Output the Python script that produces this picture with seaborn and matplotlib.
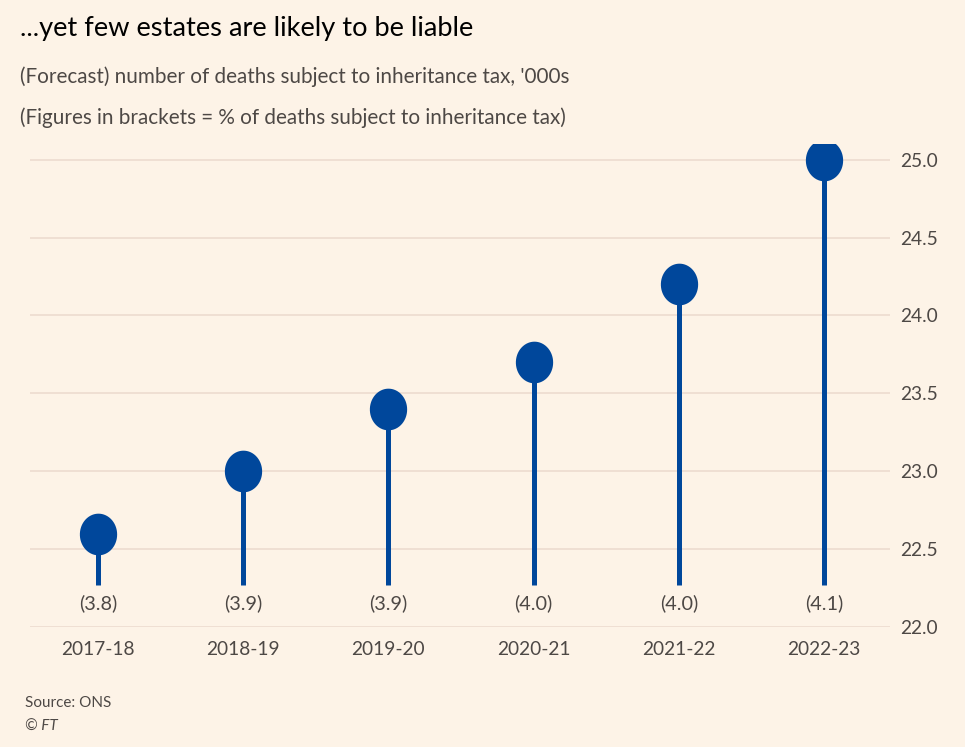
#inheritance tax lollipop chart (FT style)

import numpy as np
import pandas as pd
import matplotlib.pyplot as plt
import seaborn as sns
from matplotlib.path import Path

#data
years = ["2017-18", "2018-19", "2019-20", "2020-21", "2021-22", "2022-23"]
deaths = [22.6, 23.0, 23.4, 23.7, 24.2, 25.0]
pct = ["(3.8)", "(3.9)", "(3.9)", "(4.0)", "(4.0)", "(4.1)"]
yticks = [22.0, 22.5, 23.0, 23.5, 24.0, 24.5, 25.0]

bg = "#fdf3e7"
blue = "#00479b"
grey = "#4d4845"

sns.set_theme(style="white")
plt.rcParams['font.family'] = ['Lato', 'DejaVu Sans']

df = pd.DataFrame({"year": years, "deaths": deaths, "pct": pct})
df["pos"] = np.arange(len(df))

#slightly tall ellipse for the lollipop heads
t = np.linspace(0, 2 * np.pi, 60)
ellipse = Path(np.column_stack([np.cos(t) * 34 / 38, np.sin(t)]), closed=True)

fig = plt.figure(figsize=(9.65, 7.47), dpi=100, facecolor=bg)
ax = fig.add_axes([0.0311, 0.1606, 0.8912, 0.6466])
ax.set_facecolor(bg)

stem_base = 22.27
ax.vlines(df["pos"], stem_base, df["deaths"], color=blue, linewidth=3.6, zorder=3)
sns.scatterplot(data=df, x="pos", y="deaths", ax=ax, s=900, color=blue, marker=ellipse,
                edgecolor=blue, linewidth=0, zorder=4, legend=False)

for _, r in df.iterrows():
    ax.text(r["pos"], 22.15, r["pct"], ha="center", va="center", fontsize=14.3, color=grey)

ax.set_xlim(-0.468, 5.455)
ax.set_ylim(22.0, 25.1)
ax.set_yticks(yticks)
ax.set_yticklabels([f"{t:.1f}" for t in yticks])
ax.set_xticks(df["pos"])
ax.set_xticklabels(years)
ax.yaxis.tick_right()
ax.tick_params(axis="y", length=0, pad=7.5, labelsize=13.8, labelcolor=grey)
ax.tick_params(axis="x", length=0, pad=10, labelsize=13.8, labelcolor=grey)
ax.grid(axis="y", color="#eddcd0", linewidth=1.2, zorder=0)
ax.set_axisbelow(True)
for s in ax.spines.values():
    s.set_visible(False)
ax.set_xlabel("")
ax.set_ylabel("")

fig.text(0.021, 0.962, "...yet few estates are likely to be liable", fontsize=19.6,
         color="black", ha="left", va="center")
fig.text(0.021, 0.897, "(Forecast) number of deaths subject to inheritance tax, '000s",
         fontsize=14.9, color=grey, ha="left", va="center")
fig.text(0.021, 0.843, "(Figures in brackets = % of deaths subject to inheritance tax)",
         fontsize=14.9, color=grey, ha="left", va="center")
fig.text(0.026, 0.059, "Source: ONS", fontsize=11, color=grey, ha="left", va="center")
fig.text(0.026, 0.027, "© FT", fontsize=11, color=grey, ha="left", va="center", style="italic")

fig.savefig("out.png", dpi=100, facecolor=bg)
